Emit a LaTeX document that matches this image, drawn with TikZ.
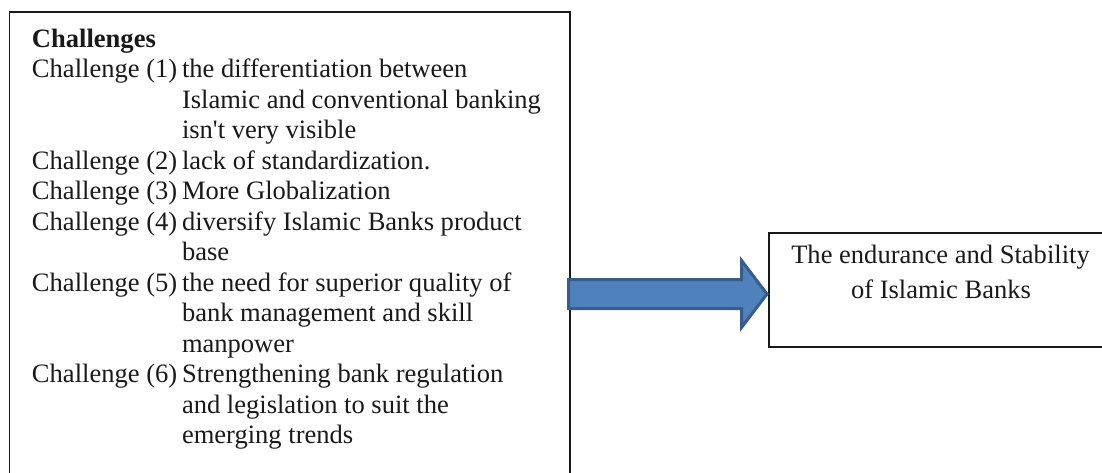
\documentclass[tikz,border=0pt]{standalone}
\usepackage{fontspec}
\setmainfont{Liberation Serif}[Ligatures=TeXOff]
\usetikzlibrary{calc}
\definecolor{arrowfill}{HTML}{4F81BD}
\definecolor{arrowline}{HTML}{385D8A}
\begin{document}
\begin{tikzpicture}[x=0.5pt,y=-0.5pt,
  every node/.style={font=\fontsize{13.27}{15.25}\selectfont, inner sep=0pt, outer sep=0pt, text=black!90},
  boxstyle/.style={draw=black!90, line width=0.75pt, fill=none},
  lbl/.style={anchor=base west},
  bigarrow/.style={fill=arrowfill, draw=arrowline, line width=1.5pt, line join=miter}]
\useasboundingbox (0,0) rectangle (1102,472);
% boxes
\node[boxstyle, minimum width=280.25pt, minimum height=233pt] (L) at (289.75,245) {};
\node[boxstyle, minimum width=171.5pt, minimum height=57pt] (R) at (940.5,290) {};
% left text
\node[lbl, font=\fontsize{13.27}{15.25}\selectfont\bfseries] (h) at (32,47) {Challenges};
\node[lbl] (c1) at (32,77.5) {Challenge (1)};
\node[lbl] (t1a) at (182,77.5) {the differentiation between};
\node[lbl] (t1b) at (182,108) {Islamic and conventional banking};
\node[lbl] (t1c) at (182,138.5) {isn't very visible};
\node[lbl] (c2) at (32,169) {Challenge (2)};
\node[lbl] (t2) at (182,169) {lack of standardization.};
\node[lbl] (c3) at (32,199.5) {Challenge (3)};
\node[lbl] (t3) at (182,199.5) {More Globalization};
\node[lbl] (c4) at (32,230) {Challenge (4)};
\node[lbl] (t4a) at (182,230) {diversify Islamic Banks product};
\node[lbl] (t4b) at (182,260.5) {base};
\node[lbl] (c5) at (32,291) {Challenge (5)};
\node[lbl] (t5a) at (182,291) {the need for superior quality of};
\node[lbl] (t5b) at (182,321.5) {bank management and skill};
\node[lbl] (t5c) at (182,352) {manpower};
\node[lbl] (c6) at (32,382.5) {Challenge (6)};
\node[lbl] (t6a) at (182,382.5) {Strengthening bank regulation};
\node[lbl] (t6b) at (182,413) {and legislation to suit the};
\node[lbl] (t6c) at (182,443.5) {emerging trends};
% right text
\node[anchor=base] (r1) at (940.5,263) {The endurance and Stability};
\node[anchor=base] (r2) at (941,298) {of Islamic Banks};
% block arrow from L to R
\coordinate (as) at ($(L.east |- R.west)+(-1.5,4)$);
\coordinate (at) at ($(R.west)+(-2,4)$);
\path[bigarrow] ($(as)+(0,-14.5)$) -- ($(at)+(-25.5,-14.5)$) -- ($(at)+(-25.5,-33.5)$)
  -- (at) -- ($(at)+(-25.5,33.5)$) -- ($(at)+(-25.5,14.5)$) -- ($(as)+(0,14.5)$) -- cycle;
\end{tikzpicture}
\end{document}
